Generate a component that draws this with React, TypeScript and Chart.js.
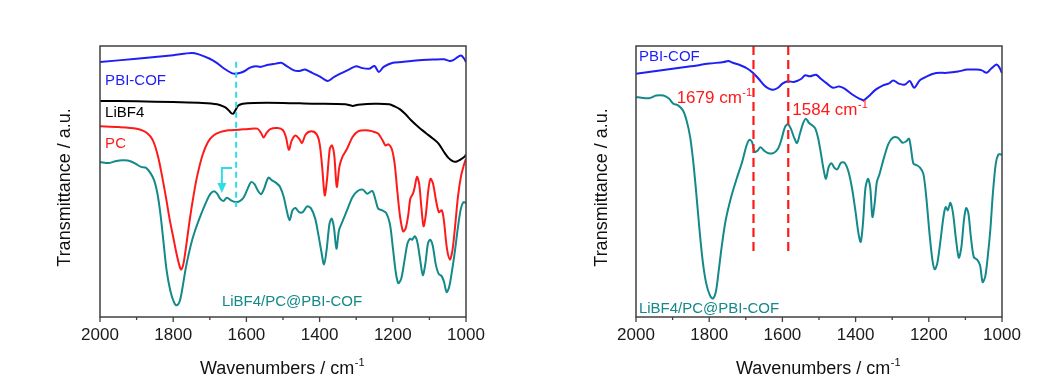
import React, { useEffect, useRef } from "react";
import { Chart, registerables } from "chart.js";
Chart.register(...registerables);

const FONT = '"Liberation Sans", Arial, Helvetica, sans-serif';
const FRAME = "#404040";
const BLUE = "#1f1ff5";
const RED = "#ff1a1a";
const TEAL = "#14898a";
const BLACK = "#000000";
const CYAN = "#2fdde6";

// ---- x-axis ticks ----
const majorTicks = [2000, 1800, 1600, 1400, 1200, 1000];
const minorTicks = [1900, 1700, 1500, 1300, 1100];

// ---- LEFT PANEL DATA ----
const pbiWnL = [2000, 1900, 1800, 1750, 1730, 1700, 1680, 1660, 1640, 1628, 1610, 1590, 1575, 1560, 1540, 1520, 1505, 1490, 1470, 1455, 1440, 1425, 1400, 1378, 1360, 1340, 1320, 1300, 1285, 1265, 1250, 1238, 1225, 1200, 1175, 1150, 1120, 1090, 1060, 1045, 1035, 1020, 1012, 1005, 1000];
const pbiValL = [94.1, 95.3, 96.6, 97.4, 96.9, 95.3, 93.7, 91.6, 90.0, 89.8, 90.4, 92.0, 92.5, 92.3, 93.1, 93.5, 93.8, 92.6, 91.0, 90.8, 91.3, 90.4, 88.8, 87.1, 88.6, 90.0, 91.3, 92.5, 91.9, 91.6, 92.6, 90.4, 92.3, 93.8, 94.1, 94.5, 94.8, 95.0, 95.1, 94.5, 94.8, 96.2, 96.4, 95.3, 94.1];

const libWn = [2000, 1900, 1800, 1720, 1680, 1660, 1650, 1642, 1636, 1630, 1622, 1610, 1580, 1500, 1420, 1330, 1310, 1295, 1250, 1210, 1195, 1180, 1165, 1150, 1130, 1110, 1090, 1075, 1060, 1048, 1035, 1025, 1015, 1005, 1000];
const libVal = [79.7, 79.6, 79.3, 79.0, 78.5, 77.5, 76.5, 75.3, 75.0, 76.3, 78.0, 78.7, 79.0, 79.0, 78.7, 78.5, 77.9, 78.3, 78.7, 78.5, 77.7, 76.6, 74.8, 72.6, 70.1, 67.9, 65.8, 64.0, 60.9, 58.7, 57.4, 57.4, 58.1, 59.0, 59.9];

const pcWn = [2000, 1950, 1900, 1880, 1870, 1858, 1850, 1840, 1830, 1820, 1810, 1800, 1790, 1782, 1778, 1772, 1765, 1755, 1745, 1735, 1720, 1705, 1690, 1670, 1650, 1620, 1595, 1570, 1560, 1553, 1545, 1535, 1515, 1500, 1492, 1484, 1476, 1466, 1456, 1448, 1438, 1422, 1408, 1400, 1393, 1386, 1380, 1372, 1366, 1360, 1353, 1346, 1338, 1325, 1310, 1295, 1275, 1255, 1240, 1228, 1220, 1212, 1203, 1195, 1187, 1180, 1172, 1165, 1158, 1152, 1145, 1140, 1134, 1128, 1122, 1116, 1110, 1103, 1097, 1090, 1082, 1074, 1066, 1060, 1052, 1044, 1037, 1030, 1022, 1014, 1006, 1000];
const pcVal = [70.4, 70.1, 69.5, 68.6, 67.7, 65.8, 63.3, 58.4, 51.7, 44.3, 36.3, 29.5, 22.8, 18.5, 17.5, 19.7, 25.8, 35.7, 44.3, 51.7, 59.7, 64.6, 67.0, 68.3, 68.9, 69.1, 69.4, 69.5, 67.9, 66.2, 67.9, 69.3, 69.7, 68.9, 66.4, 61.7, 65.2, 67.0, 65.8, 64.2, 67.4, 68.5, 67.4, 64.0, 55.4, 44.9, 50.4, 62.1, 63.3, 59.7, 48.0, 55.4, 59.0, 62.1, 66.4, 68.5, 68.9, 68.5, 67.7, 65.2, 63.3, 63.7, 62.1, 56.6, 45.5, 36.9, 31.6, 32.6, 37.5, 43.7, 45.5, 48.0, 51.7, 49.2, 40.6, 33.5, 37.5, 46.7, 51.0, 49.2, 43.1, 38.7, 39.4, 35.1, 25.2, 21.2, 24.6, 33.2, 44.3, 51.7, 56.0, 58.4];

const mixWnL = [2000, 1975, 1955, 1935, 1915, 1900, 1888, 1875, 1862, 1852, 1843, 1835, 1827, 1818, 1808, 1798, 1790, 1782, 1775, 1765, 1752, 1740, 1725, 1710, 1698, 1688, 1680, 1672, 1663, 1653, 1643, 1630, 1618, 1608, 1597, 1587, 1578, 1568, 1560, 1552, 1540, 1530, 1518, 1508, 1498, 1490, 1482, 1474, 1466, 1456, 1446, 1434, 1423, 1412, 1403, 1395, 1388, 1381, 1373, 1367, 1361, 1354, 1347, 1338, 1325, 1310, 1296, 1282, 1270, 1256, 1247, 1240, 1230, 1218, 1208, 1200, 1192, 1185, 1177, 1168, 1160, 1153, 1147, 1140, 1133, 1125, 1118, 1111, 1104, 1098, 1091, 1083, 1075, 1066, 1060, 1053, 1046, 1038, 1030, 1022, 1014, 1007, 1000];
const mixValL = [57.2, 56.8, 57.6, 57.8, 57.4, 56.3, 55.4, 55.1, 53.1, 50.4, 45.5, 38.1, 28.3, 17.2, 9.8, 5.5, 4.3, 5.9, 10.5, 18.5, 26.5, 32.0, 37.5, 42.4, 45.5, 46.4, 45.5, 43.7, 42.8, 44.0, 43.1, 42.4, 42.8, 44.0, 47.2, 49.8, 49.0, 46.5, 45.3, 47.2, 51.4, 50.4, 49.4, 48.0, 44.3, 39.4, 35.7, 39.4, 40.2, 38.7, 38.7, 40.8, 40.0, 36.3, 30.1, 24.0, 19.4, 24.6, 34.4, 36.3, 33.2, 25.2, 32.0, 35.1, 39.4, 44.3, 46.5, 47.0, 45.5, 46.5, 43.1, 40.0, 39.4, 38.4, 34.4, 25.8, 16.6, 12.5, 14.1, 20.9, 27.1, 28.9, 28.5, 29.8, 27.7, 20.9, 15.4, 19.7, 27.1, 28.5, 26.4, 19.7, 16.0, 15.0, 12.9, 9.2, 11.1, 17.2, 24.6, 33.2, 40.0, 42.4, 42.1];

// ---- RIGHT PANEL DATA ----
const pbiWnR = [2000, 1950, 1900, 1850, 1800, 1760, 1748, 1735, 1715, 1695, 1680, 1665, 1650, 1637, 1625, 1612, 1600, 1585, 1570, 1560, 1548, 1538, 1525, 1508, 1495, 1478, 1462, 1445, 1430, 1410, 1390, 1378, 1365, 1345, 1325, 1310, 1297, 1282, 1265, 1252, 1240, 1225, 1205, 1180, 1150, 1120, 1095, 1070, 1055, 1042, 1030, 1015, 1008, 1000];
const pbiValR = [89.8, 90.7, 91.6, 92.5, 93.5, 94.1, 94.5, 93.8, 92.9, 91.6, 90.0, 87.9, 85.5, 84.3, 83.9, 84.6, 86.1, 87.0, 86.7, 87.1, 87.9, 89.2, 88.8, 89.4, 87.9, 86.1, 84.6, 85.1, 84.3, 82.2, 80.6, 80.0, 81.4, 83.9, 85.5, 86.1, 87.3, 86.1, 85.8, 87.1, 84.6, 87.3, 88.8, 90.0, 90.1, 90.6, 91.3, 91.3, 91.0, 90.1, 91.6, 93.2, 92.3, 90.0];

const mixWnR = [2000, 1980, 1962, 1945, 1925, 1910, 1898, 1885, 1872, 1862, 1852, 1844, 1836, 1828, 1818, 1808, 1798, 1790, 1782, 1775, 1766, 1755, 1740, 1725, 1710, 1698, 1690, 1683, 1676, 1668, 1660, 1650, 1638, 1625, 1612, 1602, 1593, 1585, 1577, 1568, 1560, 1552, 1544, 1536, 1527, 1518, 1510, 1502, 1494, 1487, 1481, 1474, 1466, 1458, 1450, 1440, 1430, 1420, 1410, 1400, 1392, 1386, 1380, 1373, 1366, 1360, 1354, 1348, 1342, 1335, 1322, 1310, 1298, 1285, 1272, 1262, 1254, 1248, 1242, 1233, 1224, 1215, 1207, 1198, 1190, 1184, 1177, 1168, 1160, 1154, 1148, 1141, 1134, 1126, 1118, 1111, 1104, 1098, 1092, 1085, 1077, 1068, 1060, 1053, 1046, 1040, 1032, 1025, 1017, 1010, 1003, 1000];
const mixValR = [81.2, 80.8, 80.8, 81.7, 81.7, 80.6, 78.7, 78.1, 76.3, 72.6, 66.4, 57.8, 46.7, 34.4, 20.9, 12.3, 8.0, 6.8, 9.2, 16.0, 25.8, 35.7, 44.3, 51.0, 57.2, 63.3, 65.4, 64.6, 60.9, 61.4, 62.6, 61.4, 60.4, 60.5, 62.1, 65.8, 70.1, 71.1, 69.5, 66.2, 64.2, 67.7, 71.3, 73.2, 71.6, 70.7, 69.5, 65.8, 59.7, 54.1, 51.0, 55.1, 56.7, 55.1, 54.5, 56.9, 56.9, 53.9, 47.7, 38.7, 30.7, 27.7, 34.4, 47.7, 51.0, 47.7, 36.9, 41.8, 49.8, 52.6, 59.0, 64.0, 66.2, 66.2, 64.3, 64.8, 65.8, 61.5, 56.6, 56.0, 55.1, 52.9, 44.3, 30.7, 20.9, 17.6, 19.7, 28.3, 36.9, 40.6, 39.4, 42.1, 38.4, 29.0, 21.9, 25.8, 35.7, 40.2, 38.4, 29.5, 22.1, 21.2, 19.1, 12.9, 14.8, 20.9, 32.0, 45.5, 56.6, 60.0, 60.0, 59.9];

const peakMarks = [1679, 1584];

type TextItem = { text: string; sup?: string; wn: number; v: number; color: string; size: number };
type VLine = { wn: number; v0: number; v1: number; color: string; dash: number[]; width: number };
type PanelCfg = {
  left: number;
  canvasW: number;
  areaLeft: number;
  areaRight: number;
  yTitleBaseX: number;
  series: { wn: number[]; val: number[]; color: string }[];
  texts: TextItem[];
  vlines: VLine[];
  arrow?: { wnFrom: number; wnTo: number; vTop: number; vTip: number; color: string };
};

const CANVAS_H = 374;
const AREA_TOP = 46;
const AREA_BOTTOM = 317;

function drawSupText(ctx: CanvasRenderingContext2D, x: number, baseline: number, text: string, sup: string | undefined, size: number, color: string, align: "left" | "center") {
  ctx.font = `${size}px ${FONT}`;
  const w1 = ctx.measureText(text).width;
  const supSize = Math.round(size * 0.62);
  ctx.font = `${supSize}px ${FONT}`;
  const w2 = sup ? ctx.measureText(sup).width : 0;
  const total = w1 + w2;
  const start = align === "center" ? x - total / 2 : x;
  ctx.fillStyle = color;
  ctx.textAlign = "left";
  ctx.textBaseline = "alphabetic";
  ctx.font = `${size}px ${FONT}`;
  ctx.fillText(text, start, baseline);
  if (sup) {
    ctx.font = `${supSize}px ${FONT}`;
    ctx.fillText(sup, start + w1 + 0.5, baseline - size * 0.42);
  }
}

function makeOverlay(cfg: PanelCfg) {
  return {
    id: "overlay",
    afterDraw(chart: any) {
      const { ctx, chartArea: a, scales } = chart;
      const px = (w: number) => scales.x.getPixelForValue(w);
      const py = (v: number) => scales.y.getPixelForValue(v);
      ctx.save();
      // dashed marker lines
      for (const l of cfg.vlines) {
        ctx.beginPath();
        ctx.setLineDash(l.dash);
        ctx.strokeStyle = l.color;
        ctx.lineWidth = l.width;
        ctx.moveTo(px(l.wn), py(l.v0));
        ctx.lineTo(px(l.wn), py(l.v1));
        ctx.stroke();
      }
      ctx.setLineDash([]);
      // bent arrow
      if (cfg.arrow) {
        const ar = cfg.arrow;
        const x0 = px(ar.wnFrom);
        const x1 = px(ar.wnTo);
        const yT = py(ar.vTop);
        const yTip = py(ar.vTip);
        ctx.beginPath();
        ctx.strokeStyle = ar.color;
        ctx.lineWidth = 2;
        ctx.moveTo(x0, yT);
        ctx.lineTo(x1, yT);
        ctx.lineTo(x1, yTip - 8);
        ctx.stroke();
        ctx.beginPath();
        ctx.fillStyle = ar.color;
        ctx.moveTo(x1 - 4.5, yTip - 10);
        ctx.lineTo(x1 + 4.5, yTip - 10);
        ctx.lineTo(x1, yTip);
        ctx.closePath();
        ctx.fill();
      }
      // series labels and annotations
      for (const t of cfg.texts) {
        drawSupText(ctx, px(t.wn), py(t.v) + t.size * 0.358, t.text, t.sup, t.size, t.color, "left");
      }
      // frame
      ctx.strokeStyle = FRAME;
      ctx.lineWidth = 1.5;
      ctx.strokeRect(a.left, a.top, a.right - a.left, a.bottom - a.top);
      // ticks
      ctx.beginPath();
      ctx.lineWidth = 1.3;
      for (const m of majorTicks) {
        const x = px(m);
        ctx.moveTo(x, a.bottom);
        ctx.lineTo(x, a.bottom + 5);
      }
      for (const m of minorTicks) {
        const x = px(m);
        ctx.moveTo(x, a.bottom);
        ctx.lineTo(x, a.bottom + 3);
      }
      ctx.stroke();
      // x title
      drawSupText(ctx, (a.left + a.right) / 2 - 1, 373.5, "Wavenumbers / cm", "-1", 18, "#111", "center");
      // y title
      ctx.translate(cfg.yTitleBaseX, 187.5);
      ctx.rotate(-Math.PI / 2);
      ctx.font = `18px ${FONT}`;
      ctx.fillStyle = "#111";
      ctx.textAlign = "center";
      ctx.textBaseline = "alphabetic";
      ctx.fillText("Transmittance / a.u.", 0, 0);
      ctx.restore();
    },
  };
}

const leftCfg: PanelCfg = {
  left: 0,
  canvasW: 532,
  areaLeft: 100,
  areaRight: 466,
  yTitleBaseX: 70,
  series: [
    { wn: pbiWnL, val: pbiValL, color: BLUE },
    { wn: libWn, val: libVal, color: BLACK },
    { wn: pcWn, val: pcVal, color: RED },
    { wn: mixWnL, val: mixValL, color: TEAL },
  ],
  texts: [
    { text: "PBI-COF", wn: 1986, v: 87.5, color: BLUE, size: 15 },
    { text: "LiBF4", wn: 1986, v: 75.6, color: BLACK, size: 15 },
    { text: "PC", wn: 1986, v: 64.2, color: RED, size: 15 },
    { text: "LiBF4/PC@PBI-COF", wn: 1667, v: 6.1, color: TEAL, size: 15 },
  ],
  vlines: [{ wn: 1628, v0: 94.2, v1: 40.6, color: CYAN, dash: [6, 4], width: 2 }],
  arrow: { wnFrom: 1639, wnTo: 1667, vTop: 55, vTip: 45.8, color: CYAN },
};

const rightCfg: PanelCfg = {
  left: 532,
  canvasW: 532,
  areaLeft: 104,
  areaRight: 470,
  yTitleBaseX: 75,
  series: [
    { wn: pbiWnR, val: pbiValR, color: BLUE },
    { wn: mixWnR, val: mixValR, color: TEAL },
  ],
  texts: [
    { text: "PBI-COF", wn: 1992, v: 96.3, color: BLUE, size: 15 },
    { text: "LiBF4/PC@PBI-COF", wn: 1992, v: 3.3, color: TEAL, size: 15 },
    { text: "1679 cm", sup: "-1", wn: 1889, v: 81.2, color: RED, size: 17 },
    { text: "1584 cm", sup: "-1", wn: 1573, v: 76.8, color: RED, size: 17 },
  ],
  vlines: peakMarks.map((p) => ({ wn: p, v0: 100, v1: 24.4, color: RED, dash: [9, 5], width: 2.2 })),
};

function Panel({ cfg }: { cfg: PanelCfg }) {
  const ref = useRef<HTMLCanvasElement | null>(null);
  useEffect(() => {
    if (!ref.current) return;
    const chart = new Chart(ref.current, {
      type: "line",
      data: {
        datasets: cfg.series.map((s) => ({
          data: s.wn.map((w, i) => ({ x: w, y: s.val[i] })),
          borderColor: s.color,
          borderWidth: 2,
          pointRadius: 0,
          fill: false,
          tension: 0.3,
          borderJoinStyle: "round" as const,
        })),
      },
      options: {
        responsive: false,
        animation: false,
        events: [],
        layout: {
          autoPadding: false,
          padding: { left: 0, top: AREA_TOP, right: cfg.canvasW - cfg.areaRight, bottom: 0 },
        },
        plugins: { legend: { display: false }, tooltip: { enabled: false }, title: { display: false } },
        scales: {
          x: {
            type: "linear",
            reverse: true,
            min: 1000,
            max: 2000,
            border: { display: false },
            grid: { display: true, drawOnChartArea: false, drawTicks: true, tickLength: 5, color: "rgba(0,0,0,0)", tickColor: "rgba(0,0,0,0)" },
            ticks: {
              stepSize: 100,
              autoSkip: false,
              maxRotation: 0,
              padding: 3,
              color: "#1a1a1a",
              font: { family: FONT, size: 17 },
              callback: (v: any) => (majorTicks.includes(Number(v)) ? String(v) : ""),
            },
            afterFit: (s: any) => {
              s.height = CANVAS_H - AREA_BOTTOM;
              s.paddingLeft = 0;
              s.paddingRight = 0;
            },
          },
          y: {
            type: "linear",
            min: 0,
            max: 100,
            border: { display: false },
            grid: { display: false },
            ticks: { display: false },
            afterFit: (s: any) => {
              s.width = cfg.areaLeft;
              s.paddingTop = 0;
              s.paddingBottom = 0;
            },
          },
        },
      },
      plugins: [makeOverlay(cfg)],
    } as any);
    return () => chart.destroy();
  }, [cfg]);
  return (
    <canvas
      ref={ref}
      width={cfg.canvasW}
      height={CANVAS_H}
      style={{ position: "absolute", left: cfg.left, top: 0, width: cfg.canvasW, height: CANVAS_H }}
    />
  );
}

export default function App() {
  return (
    <div style={{ position: "absolute", left: 0, top: 0, width: 1064, height: CANVAS_H, background: "#fff", overflow: "hidden" }}>
      <Panel cfg={leftCfg} />
      <Panel cfg={rightCfg} />
    </div>
  );
}
